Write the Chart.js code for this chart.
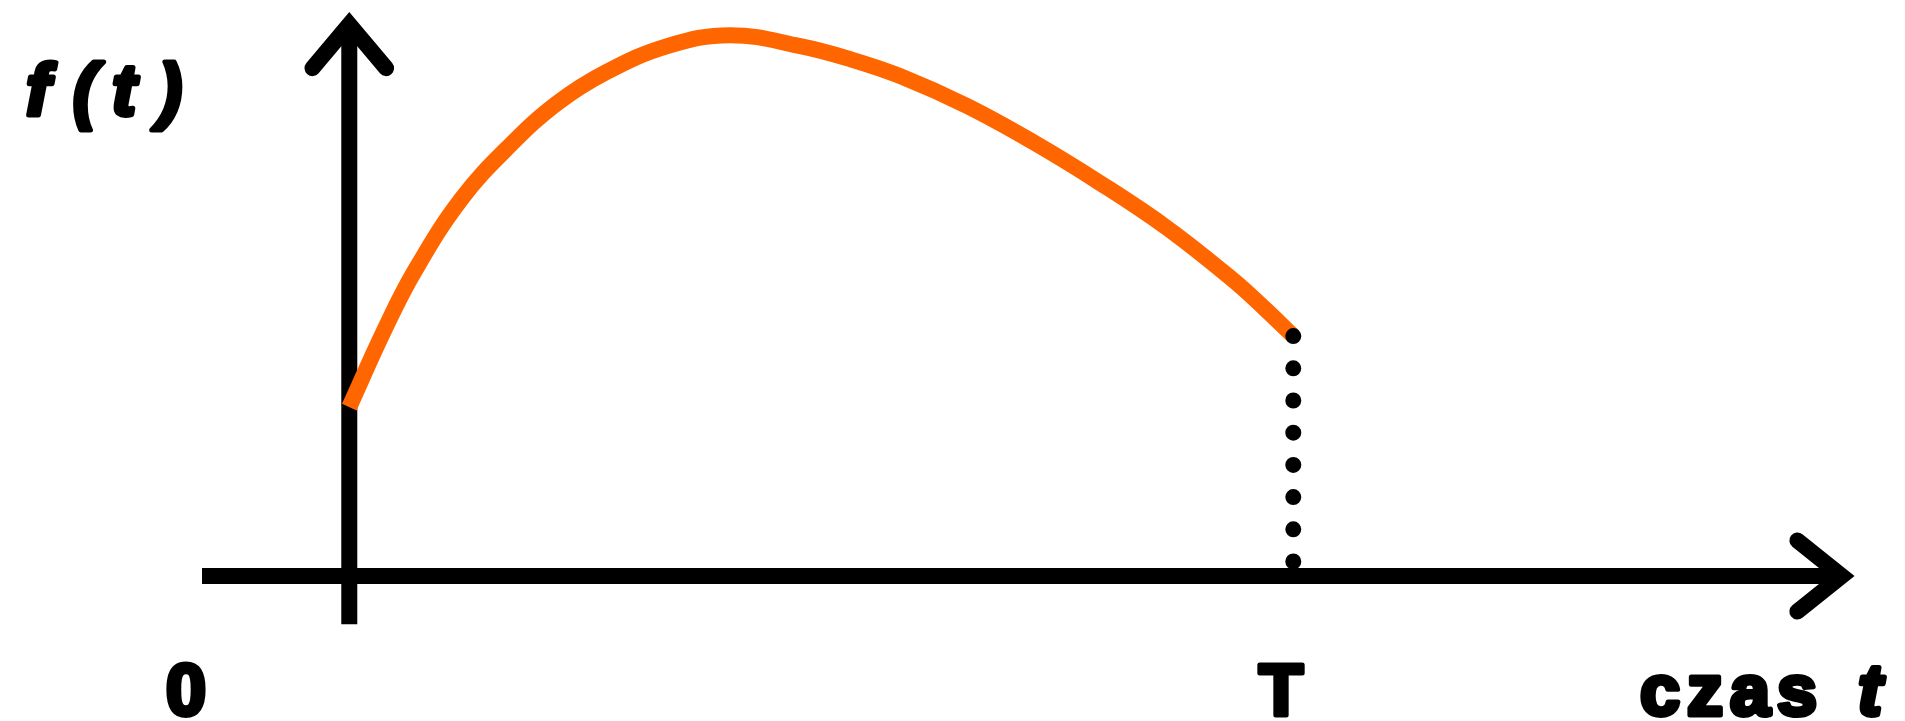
<!DOCTYPE html>
<html lang="pl">
<head>
    <meta charset="UTF-8">
    <title>f(t) - czas t</title>
    <script src="https://cdn.jsdelivr.net/npm/chart.js"></script>
    <style>
        html, body { margin: 0; padding: 0; background: #fff; overflow: hidden; }
        #wrap { width: 1905px; height: 721px; position: relative; }
    </style>
</head>
<body>

<div id="wrap">
    <canvas id="ftChart"></canvas>
</div>

<script>
    // curve f(t) (t: 0..T, T = 10)
    const curveT = [0, 0.371, 0.689, 1.186, 1.705, 2.203, 2.712, 3.369, 4.036, 4.778, 5.307, 5.837, 6.547, 7.246, 7.956, 8.665, 9.364, 9.703, 10];
    const curveF = [3.124, 4.547, 5.628, 6.969, 7.967, 8.743, 9.307, 9.797, 10.0, 9.797, 9.556, 9.242, 8.688, 8.022, 7.264, 6.433, 5.471, 4.935, 4.436];

    // the end of the interval
    const tEnd = 10;

    // axes and their arrow heads
    const xAxisT = [-1.56, 15.81];
    const xAxisF = [0, 0];
    const yAxisT = [0, 0];
    const yAxisF = [-0.89, 10.20];
    const xArrowT = [15.34, 15.81, 15.34];
    const xArrowF = [0.656, 0, -0.656];
    const yArrowT = [-0.39, 0, 0.39];
    const yArrowF = [9.39, 10.20, 9.39];

    // visible window
    const viewT = [-3.70, 16.48];
    const viewF = [-2.68, 10.65];

    function pts(xs, ys) {
        return xs.map(function(x, i) { return { x: x, y: ys[i] }; });
    }

    var fontFamily = '"Liberation Sans", Arial, sans-serif';

    // labels: 0, T, czas t, f(t)
    var labelsPlugin = {
        id: 'labels',
        afterDatasetsDraw: function(chart) {
            var ctx = chart.ctx;
            ctx.save();
            ctx.fillStyle = '#000';
            ctx.strokeStyle = '#000';
            ctx.lineWidth = 5;
            ctx.lineJoin = 'round';
            ctx.textBaseline = 'alphabetic';

            function put(txt, x, y, align, italic, spacing) {
                ctx.font = (italic ? 'italic ' : '') + 'bold 72px ' + fontFamily;
                ctx.textAlign = align;
                ctx.letterSpacing = (spacing || 0) + 'px';
                ctx.strokeText(txt, x, y);
                ctx.fillText(txt, x, y);
            }

            put('0', 186, 715, 'center');
            put('T', 1281, 715, 'center');
            put('czas', 1640, 715, 'left', false, 7);
            put('t', 1858, 715, 'left', true);

            put('f', 38, 115, 'center', true);
            put('(', 85, 115, 'center', true);
            put('t', 124, 115, 'center', true);
            put(')', 170, 115, 'center', true);
            ctx.restore();
        }
    };

    var ctx = document.getElementById('ftChart').getContext('2d');
    var ftChart = new Chart(ctx, {
        type: 'line',
        data: {
            datasets: [
                {
                    label: 'T',
                    data: pts([tEnd, tEnd], [curveF[curveF.length - 1], 0]),
                    borderColor: '#000',
                    borderWidth: 16,
                    borderDash: [0, 32.2],
                    borderCapStyle: 'round',
                    order: 0
                },
                {
                    label: 'f(t)',
                    data: pts(curveT, curveF),
                    borderColor: '#ff6600',
                    borderWidth: 16,
                    borderCapStyle: 'butt',
                    tension: 0.4,
                    order: 1
                },
                {
                    label: 'oś t',
                    data: pts(xAxisT, xAxisF),
                    borderColor: '#000',
                    borderWidth: 16,
                    borderCapStyle: 'butt',
                    order: 2
                },
                {
                    label: 'oś f',
                    data: pts(yAxisT, yAxisF),
                    borderColor: '#000',
                    borderWidth: 16,
                    borderCapStyle: 'butt',
                    order: 2
                },
                {
                    label: 'strzałka t',
                    data: pts(xArrowT, xArrowF),
                    borderColor: '#000',
                    borderWidth: 16,
                    borderCapStyle: 'round',
                    borderJoinStyle: 'miter',
                    order: 2
                },
                {
                    label: 'strzałka f',
                    data: pts(yArrowT, yArrowF),
                    borderColor: '#000',
                    borderWidth: 16,
                    borderCapStyle: 'round',
                    borderJoinStyle: 'miter',
                    order: 2
                }
            ]
        },
        options: {
            responsive: true,
            maintainAspectRatio: false,
            animation: false,
            layout: { padding: 0 },
            elements: {
                point: { radius: 0, hoverRadius: 0 },
                line: { fill: false, tension: 0 }
            },
            datasets: { line: { clip: false } },
            scales: {
                x: { type: 'linear', min: viewT[0], max: viewT[1], display: false },
                y: { type: 'linear', min: viewF[0], max: viewF[1], display: false }
            },
            plugins: {
                legend: { display: false },
                tooltip: { enabled: false }
            }
        },
        plugins: [labelsPlugin]
    });
</script>

</body>
</html>
